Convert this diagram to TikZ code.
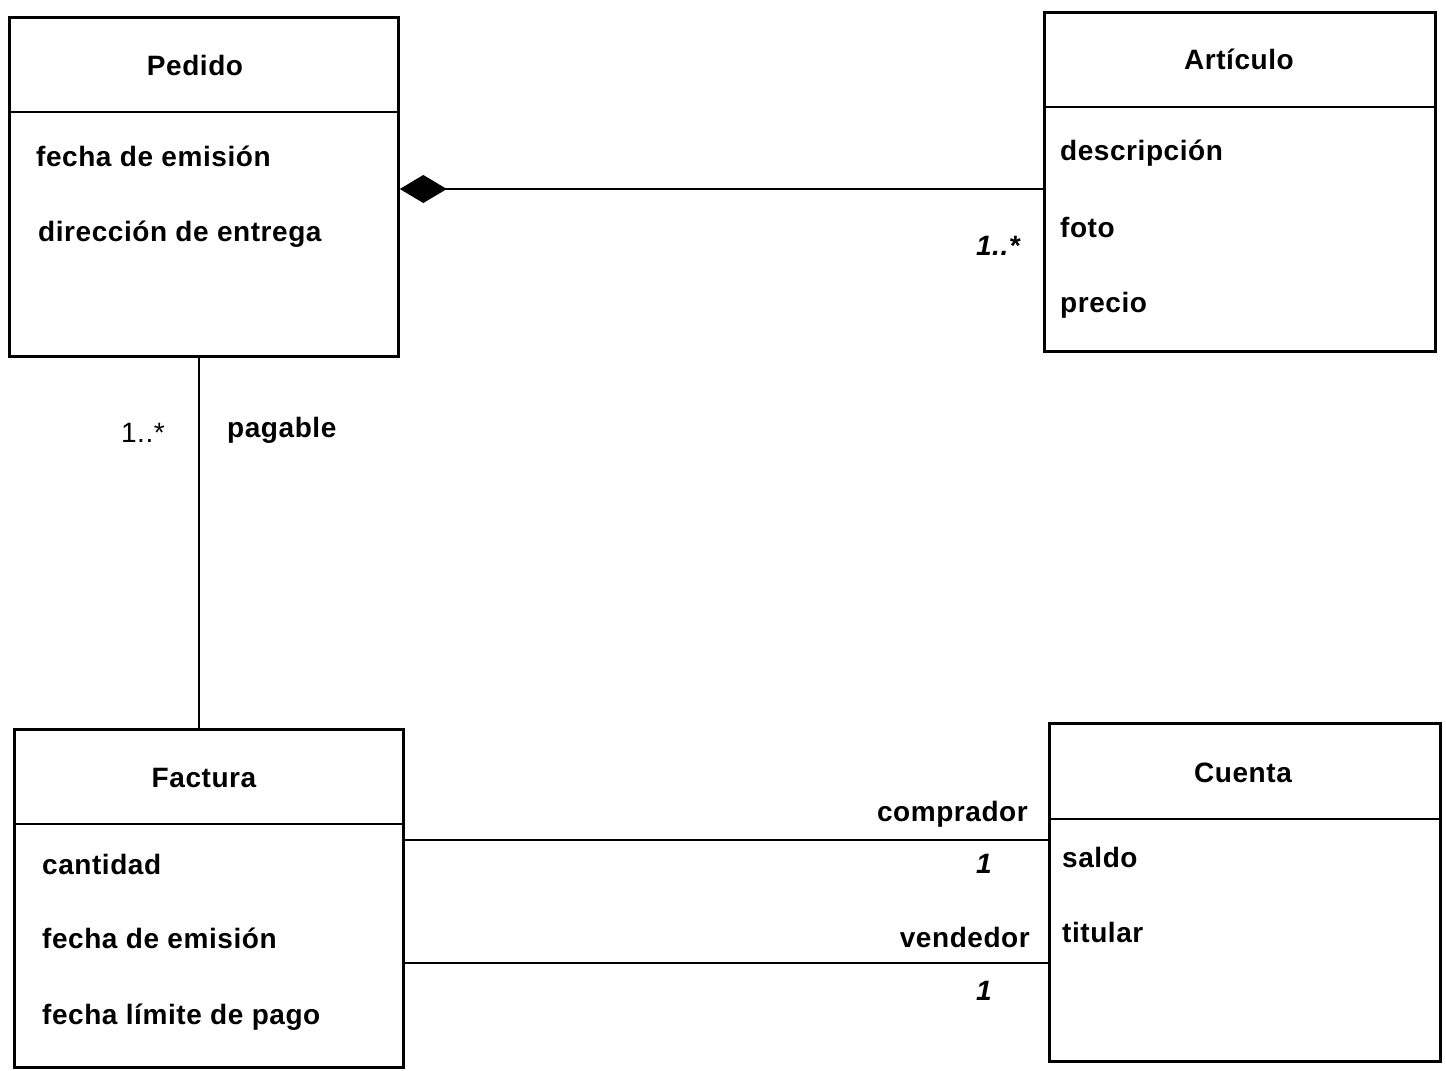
\documentclass[tikz,border=0pt]{standalone}
\usepackage{fontspec}
\setmainfont{Liberation Sans}[LetterSpace=2]
\usetikzlibrary{arrows.meta}
\tikzset{
  classbox/.style={draw, line width=2.8pt, minimum width=#1, inner sep=0pt, anchor=north west},
  sep/.style={line width=2.8pt},
  assoc/.style={line width=2.8pt},
  comp/.style={line width=2.8pt, {Diamond[length=47pt,width=28pt,line width=0pt]}-},
  txt/.style={inner sep=0pt, font=\fontsize{28}{34}\selectfont\bfseries},
  lbl/.style={txt, anchor=base west},
  lblr/.style={txt, anchor=base east},
  ttl/.style={txt, anchor=base},
  mult/.style={txt, font=\fontsize{28}{34}\selectfont\bfseries\itshape},
  plain/.style={txt, font=\fontsize{28}{34}\selectfont}
}
\begin{document}
\begin{tikzpicture}[x=1pt,y=-1pt]
\useasboundingbox (0,0) rectangle (1446,1071);
% boxes
\node[classbox=389pt, minimum height=339pt] (pedido) at (8,16) {};
\node[classbox=391pt, minimum height=339pt] (art) at (1043,11) {};
\node[classbox=389pt, minimum height=338pt] (factura) at (13,728) {};
\node[classbox=391pt, minimum height=338pt] (cuenta) at (1048,722) {};
% header separators
\draw[sep] (pedido.west |- 0,112) -- (pedido.east |- 0,112);
\draw[sep] (art.west |- 0,107) -- (art.east |- 0,107);
\draw[sep] (factura.west |- 0,824) -- (factura.east |- 0,824);
\draw[sep] (cuenta.west |- 0,819) -- (cuenta.east |- 0,819);
% titles
\node[ttl] (tped) at (195,75) {Pedido};
\node[ttl] (tart) at (1239,69) {Artículo};
\node[ttl] (tfac) at (204,787) {Factura};
\node[ttl] (tcue) at (1243,782) {Cuenta};
% attributes
\node[lbl] (p1) at (36,166) {fecha de emisión};
\node[lbl] (p2) at (38,241) {dirección de entrega};
\node[lbl] (a1) at (1060,160) {descripción};
\node[lbl] (a2) at (1060,237) {foto};
\node[lbl] (a3) at (1060,312) {precio};
\node[lbl] (f1) at (42,874) {cantidad};
\node[lbl] (f2) at (42,948) {fecha de emisión};
\node[lbl] (f3) at (42,1024) {fecha límite de pago};
\node[lbl] (c1) at (1062,867) {saldo};
\node[lbl] (c2) at (1062,942) {titular};
% connectors
\draw[comp] (pedido.east |- 0,189) -- (art.west |- 0,189);
\draw[assoc] (pedido.south -| 199,0) -- (factura.north -| 199,0);
\draw[assoc] (factura.east |- 0,840) -- (cuenta.west |- 0,840);
\draw[assoc] (factura.east |- 0,963) -- (cuenta.west |- 0,963);
% connector labels
\node[mult, anchor=base east] (m1) at (1020,255) {1..*};
\node[plain, anchor=base east] (m2) at (165,442) {1..*};
\node[lbl] (r1) at (227,437) {pagable};
\node[lblr] (r2) at (1028,821) {comprador};
\node[mult, anchor=base] (m3) at (984,873) {1};
\node[lblr] (r3) at (1030,947) {vendedor};
\node[mult, anchor=base] (m4) at (984,1000) {1};
\end{tikzpicture}
\end{document}
